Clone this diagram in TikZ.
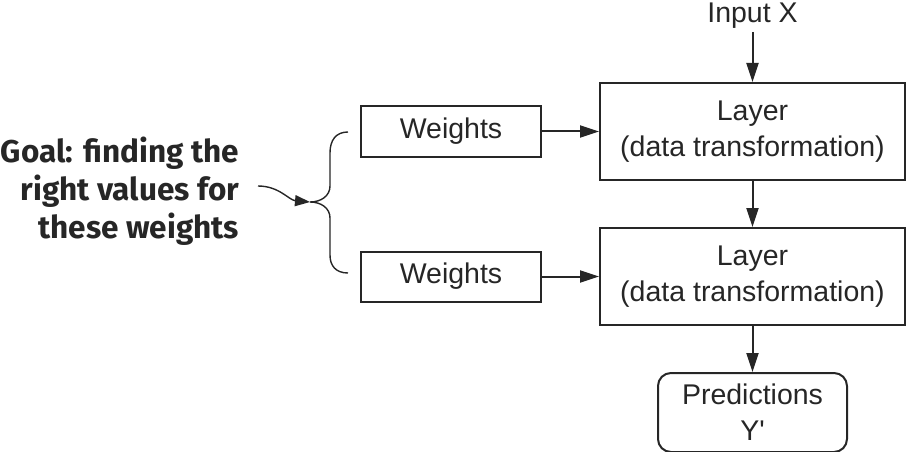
\documentclass[tikz,border=0pt]{standalone}
\usepackage{fontspec}
\setmainfont{Liberation Sans}
\newfontfamily\goalfont{Fira Sans}
\usetikzlibrary{arrows.meta,positioning}
\definecolor{ink}{HTML}{262626}

\begin{document}
\begin{tikzpicture}[x=1pt,y=-1pt,->,>={Triangle[length=19pt,width=12pt]},node distance=46pt,line width=2pt,color=ink,
  every node/.style={font=\fontsize{28.5}{36}\selectfont},
  layer/.style={draw,rectangle,minimum width=305pt,minimum height=97pt,align=center,inner sep=0pt},
  wbox/.style={draw,rectangle,minimum width=180pt,minimum height=50pt,inner sep=0pt},
  thinline/.style={line width=1.4pt}]
  \useasboundingbox (0,0) rectangle (906,452);

  \node[layer]	(layerA) at (752.5,131.5)	{Layer\\(data transformation)};
  \node[layer]	(layerB) [below=of layerA]	{Layer\\(data transformation)};
  \node[draw,rounded corners=13pt,minimum width=189pt,minimum height=79pt,align=center,inner sep=0pt]
  		(pred) [below=of layerB]	{Predictions\\Y\textquotesingle};
  \node[inner sep=3pt]	(input) [above=50pt of layerA]	{Input X};
  \node[wbox]	(wA) [left=57pt of layerA]	{Weights};
  \node[wbox]	(wB) [left=57pt of layerB]	{Weights};
  \node[align=right,anchor=east,inner sep=0pt,font=\goalfont\bfseries\fontsize{31.5}{38}\selectfont]
  		(goal) at (240,191)	{Goal: finding the\\right values for\\these weights};

  \path	(input) edge (layerA)
  		(layerA) edge (layerB)
  		(layerB) edge (pred)
  		(wA) edge (layerA)
  		(wB) edge (layerB);

  % brace round the two weights
  \coordinate (tip) at (310,202);
  \coordinate (goalout) at (258,186);
  \draw[-,thinline] (348,132) .. controls (336,132) and (330,140) .. (330,153) -- (330,186)
  		.. controls (330,196) and (321,202) .. (tip)
  		.. controls (321,202) and (330,208) .. (330,218) -- (330,255)
  		.. controls (330,266) and (336,273) .. (348,273);
  \draw[thinline,>={Triangle[length=15pt,width=11pt]}] (goalout) to[out=0,in=175] (tip);
\end{tikzpicture}
\end{document}
